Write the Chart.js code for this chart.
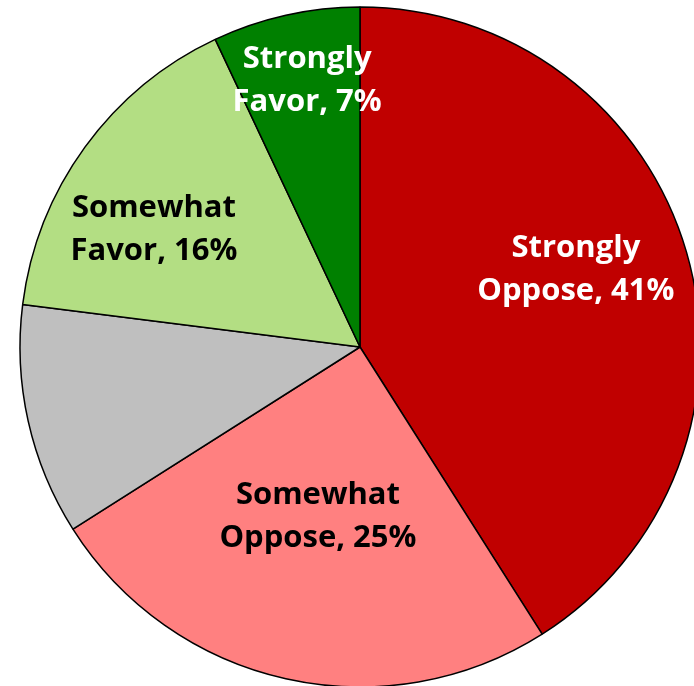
<!DOCTYPE html>
<html>
<head>
<meta charset="utf-8">
<script src="https://cdn.jsdelivr.net/npm/chart.js@4.4.1/dist/chart.umd.min.js"></script>
<style>
  html, body { margin: 0; padding: 0; background: #fff; overflow: hidden; }
  #wrap { position: absolute; left: 0; top: 0; width: 720px; height: 694px; }
</style>
</head>
<body>
<div id="wrap"><canvas id="pie" width="720" height="694"></canvas></div>
<script>
// slices clockwise from 12 o'clock
const categories = ['Strongly Oppose', 'Somewhat Oppose', 'No Opinion', 'Somewhat Favor', 'Strongly Favor'];
const values = [41, 25, 11, 16, 7];
const colors = ['#C00000', '#FF8080', '#BFBFBF', '#B3DE83', '#008000'];
const labelLines = [['Strongly', 'Oppose, 41%'], ['Somewhat', 'Oppose, 25%'], [], ['Somewhat', 'Favor, 16%'], ['Strongly', 'Favor, 7%']];
const labelColors = ['#fff', '#000', '#000', '#000', '#fff'];
// where each label sits: fraction of radius, and angle nudge in degrees
const labelRadius = [0.674, 0.515, 0, 0.697, 0.80];
const labelNudge = [-3.4, 1.3, 0, -6.4, 1.4];

const sliceLabels = {
  id: 'sliceLabels',
  afterDatasetsDraw(chart) {
    const ctx = chart.ctx;
    const arcs = chart.getDatasetMeta(0).data;
    ctx.save();
    ctx.font = 'bold 31px "Open Sans"';
    ctx.textAlign = 'center';
    ctx.textBaseline = 'middle';
    arcs.forEach((arc, i) => {
      const lines = labelLines[i];
      if (!lines.length) return;
      const mid = (arc.startAngle + arc.endAngle) / 2 + labelNudge[i] * Math.PI / 180;
      const r = arc.outerRadius * labelRadius[i];
      const x = arc.x + Math.cos(mid) * r;
      const y = arc.y + Math.sin(mid) * r;
      ctx.fillStyle = labelColors[i];
      const lh = 43;
      lines.forEach((t, k) => {
        ctx.fillText(t, x, y + (k - (lines.length - 1) / 2) * lh);
      });
    });
    ctx.restore();
  }
};

new Chart(document.getElementById('pie'), {
  type: 'pie',
  data: {
    labels: categories,
    datasets: [{
      data: values,
      backgroundColor: colors,
      borderColor: '#000',
      borderWidth: 1.5,
      radius: 340
    }]
  },
  options: {
    responsive: false,
    animation: false,
    layout: { padding: 0 },
    plugins: {
      legend: { display: false },
      tooltip: { enabled: false }
    }
  },
  plugins: [sliceLabels]
});
</script>
</body>
</html>
